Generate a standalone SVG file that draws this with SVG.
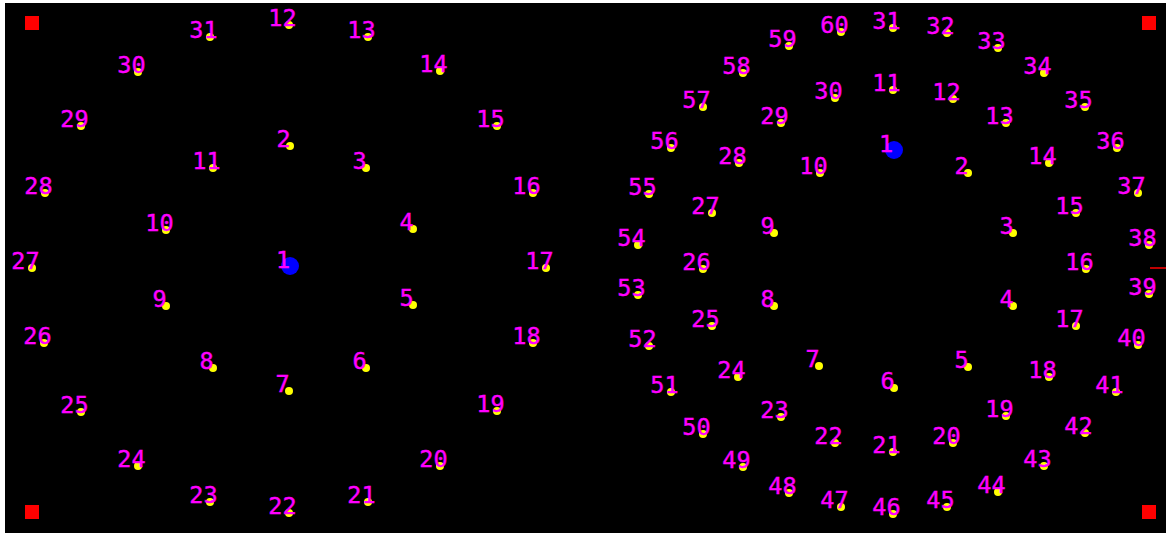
<svg xmlns="http://www.w3.org/2000/svg" width="1166" height="533" viewBox="0 0 1166 533">
<style>
.d{fill:#ffff00}
.b{fill:#0000ff}
.t{fill:#ff00ff;stroke:#ff00ff;stroke-width:0.4;font-family:"DejaVu Sans Mono","Liberation Mono",monospace;font-size:23.5px;text-anchor:middle}
.m{fill:#ff0000}
</style>
<rect x="0" y="0" width="1166" height="533" fill="#ffffff"/>
<rect x="5" y="3" width="1161" height="530" fill="#000000"/>
<rect class="m" x="25" y="16" width="14" height="14"/>
<rect class="m" x="1142" y="16" width="14" height="14"/>
<rect class="m" x="25" y="505" width="14" height="14"/>
<rect class="m" x="1142" y="505" width="14" height="14"/>
<line x1="1150" y1="268" x2="1166" y2="268" stroke="#ff0000" stroke-width="1.5"/>
<g id="connectors"></g>
<g id="left">
<g id="L1"><circle class="b" cx="290" cy="266" r="9"/><text class="t" x="283" y="268">1</text></g>
<g id="L2"><circle class="d" cx="290" cy="146" r="4"/><text class="t" x="283.5" y="147">2</text></g>
<g id="L3"><circle class="d" cx="366" cy="168" r="4"/><text class="t" x="359.5" y="169">3</text></g>
<g id="L4"><circle class="d" cx="413" cy="229" r="4"/><text class="t" x="406.5" y="230">4</text></g>
<g id="L5"><circle class="d" cx="413" cy="305" r="4"/><text class="t" x="406.5" y="306">5</text></g>
<g id="L6"><circle class="d" cx="366" cy="368" r="4"/><text class="t" x="359.5" y="369">6</text></g>
<g id="L7"><circle class="d" cx="289" cy="391" r="4"/><text class="t" x="282.5" y="392">7</text></g>
<g id="L8"><circle class="d" cx="213" cy="368" r="4"/><text class="t" x="206.5" y="369">8</text></g>
<g id="L9"><circle class="d" cx="166" cy="306" r="4"/><text class="t" x="159.5" y="307">9</text></g>
<g id="L10"><circle class="d" cx="166" cy="230" r="4"/><text class="t" x="159.5" y="231">10</text></g>
<g id="L11"><circle class="d" cx="213" cy="168" r="4"/><text class="t" x="206.5" y="169">11</text></g>
<g id="L12"><circle class="d" cx="289" cy="25" r="4"/><text class="t" x="282.5" y="26">12</text></g>
<g id="L13"><circle class="d" cx="368" cy="37" r="4"/><text class="t" x="361.5" y="38">13</text></g>
<g id="L14"><circle class="d" cx="440" cy="71" r="4"/><text class="t" x="433.5" y="72">14</text></g>
<g id="L15"><circle class="d" cx="497" cy="126" r="4"/><text class="t" x="490.5" y="127">15</text></g>
<g id="L16"><circle class="d" cx="533" cy="193" r="4"/><text class="t" x="526.5" y="194">16</text></g>
<g id="L17"><circle class="d" cx="546" cy="268" r="4"/><text class="t" x="539.5" y="269">17</text></g>
<g id="L18"><circle class="d" cx="533" cy="343" r="4"/><text class="t" x="526.5" y="344">18</text></g>
<g id="L19"><circle class="d" cx="497" cy="411" r="4"/><text class="t" x="490.5" y="412">19</text></g>
<g id="L20"><circle class="d" cx="440" cy="466" r="4"/><text class="t" x="433.5" y="467">20</text></g>
<g id="L21"><circle class="d" cx="368" cy="502" r="4"/><text class="t" x="361.5" y="503">21</text></g>
<g id="L22"><circle class="d" cx="289" cy="513" r="4"/><text class="t" x="282.5" y="514">22</text></g>
<g id="L23"><circle class="d" cx="210" cy="502" r="4"/><text class="t" x="203.5" y="503">23</text></g>
<g id="L24"><circle class="d" cx="138" cy="466" r="4"/><text class="t" x="131.5" y="467">24</text></g>
<g id="L25"><circle class="d" cx="81" cy="412" r="4"/><text class="t" x="74.5" y="413">25</text></g>
<g id="L26"><circle class="d" cx="44" cy="343" r="4"/><text class="t" x="37.5" y="344">26</text></g>
<g id="L27"><circle class="d" cx="32" cy="268" r="4"/><text class="t" x="25.5" y="269">27</text></g>
<g id="L28"><circle class="d" cx="45" cy="193" r="4"/><text class="t" x="38.5" y="194">28</text></g>
<g id="L29"><circle class="d" cx="81" cy="126" r="4"/><text class="t" x="74.5" y="127">29</text></g>
<g id="L30"><circle class="d" cx="138" cy="72" r="4"/><text class="t" x="131.5" y="73">30</text></g>
<g id="L31"><circle class="d" cx="210" cy="37" r="4"/><text class="t" x="203.5" y="38">31</text></g>
</g>
<g id="right">
<g id="R1"><circle class="b" cx="894" cy="150" r="9"/><text class="t" x="886" y="152">1</text></g>
<g id="R2"><circle class="d" cx="968" cy="173" r="4"/><text class="t" x="961.5" y="174">2</text></g>
<g id="R3"><circle class="d" cx="1013" cy="233" r="4"/><text class="t" x="1006.5" y="234">3</text></g>
<g id="R4"><circle class="d" cx="1013" cy="306" r="4"/><text class="t" x="1006.5" y="307">4</text></g>
<g id="R5"><circle class="d" cx="968" cy="367" r="4"/><text class="t" x="961.5" y="368">5</text></g>
<g id="R6"><circle class="d" cx="894" cy="388" r="4"/><text class="t" x="887.5" y="389">6</text></g>
<g id="R7"><circle class="d" cx="819" cy="366" r="4"/><text class="t" x="812.5" y="367">7</text></g>
<g id="R8"><circle class="d" cx="774" cy="306" r="4"/><text class="t" x="767.5" y="307">8</text></g>
<g id="R9"><circle class="d" cx="774" cy="233" r="4"/><text class="t" x="767.5" y="234">9</text></g>
<g id="R10"><circle class="d" cx="820" cy="173" r="4"/><text class="t" x="813.5" y="174">10</text></g>
<g id="R11"><circle class="d" cx="893" cy="90" r="4"/><text class="t" x="886.5" y="91">11</text></g>
<g id="R12"><circle class="d" cx="953" cy="99" r="4"/><text class="t" x="946.5" y="100">12</text></g>
<g id="R13"><circle class="d" cx="1006" cy="123" r="4"/><text class="t" x="999.5" y="124">13</text></g>
<g id="R14"><circle class="d" cx="1049" cy="163" r="4"/><text class="t" x="1042.5" y="164">14</text></g>
<g id="R15"><circle class="d" cx="1076" cy="213" r="4"/><text class="t" x="1069.5" y="214">15</text></g>
<g id="R16"><circle class="d" cx="1086" cy="269" r="4"/><text class="t" x="1079.5" y="270">16</text></g>
<g id="R17"><circle class="d" cx="1076" cy="326" r="4"/><text class="t" x="1069.5" y="327">17</text></g>
<g id="R18"><circle class="d" cx="1049" cy="377" r="4"/><text class="t" x="1042.5" y="378">18</text></g>
<g id="R19"><circle class="d" cx="1006" cy="416" r="4"/><text class="t" x="999.5" y="417">19</text></g>
<g id="R20"><circle class="d" cx="953" cy="443" r="4"/><text class="t" x="946.5" y="444">20</text></g>
<g id="R21"><circle class="d" cx="893" cy="452" r="4"/><text class="t" x="886.5" y="453">21</text></g>
<g id="R22"><circle class="d" cx="835" cy="443" r="4"/><text class="t" x="828.5" y="444">22</text></g>
<g id="R23"><circle class="d" cx="781" cy="417" r="4"/><text class="t" x="774.5" y="418">23</text></g>
<g id="R24"><circle class="d" cx="738" cy="377" r="4"/><text class="t" x="731.5" y="378">24</text></g>
<g id="R25"><circle class="d" cx="712" cy="326" r="4"/><text class="t" x="705.5" y="327">25</text></g>
<g id="R26"><circle class="d" cx="703" cy="269" r="4"/><text class="t" x="696.5" y="270">26</text></g>
<g id="R27"><circle class="d" cx="712" cy="213" r="4"/><text class="t" x="705.5" y="214">27</text></g>
<g id="R28"><circle class="d" cx="739" cy="163" r="4"/><text class="t" x="732.5" y="164">28</text></g>
<g id="R29"><circle class="d" cx="781" cy="123" r="4"/><text class="t" x="774.5" y="124">29</text></g>
<g id="R30"><circle class="d" cx="835" cy="98" r="4"/><text class="t" x="828.5" y="99">30</text></g>
<g id="R31"><circle class="d" cx="893" cy="28" r="4"/><text class="t" x="886.5" y="29">31</text></g>
<g id="R32"><circle class="d" cx="947" cy="33" r="4"/><text class="t" x="940.5" y="34">32</text></g>
<g id="R33"><circle class="d" cx="998" cy="48" r="4"/><text class="t" x="991.5" y="49">33</text></g>
<g id="R34"><circle class="d" cx="1044" cy="73" r="4"/><text class="t" x="1037.5" y="74">34</text></g>
<g id="R35"><circle class="d" cx="1085" cy="107" r="4"/><text class="t" x="1078.5" y="108">35</text></g>
<g id="R36"><circle class="d" cx="1117" cy="148" r="4"/><text class="t" x="1110.5" y="149">36</text></g>
<g id="R37"><circle class="d" cx="1138" cy="193" r="4"/><text class="t" x="1131.5" y="194">37</text></g>
<g id="R38"><circle class="d" cx="1149" cy="245" r="4"/><text class="t" x="1142.5" y="246">38</text></g>
<g id="R39"><circle class="d" cx="1149" cy="294" r="4"/><text class="t" x="1142.5" y="295">39</text></g>
<g id="R40"><circle class="d" cx="1138" cy="345" r="4"/><text class="t" x="1131.5" y="346">40</text></g>
<g id="R41"><circle class="d" cx="1116" cy="392" r="4"/><text class="t" x="1109.5" y="393">41</text></g>
<g id="R42"><circle class="d" cx="1085" cy="433" r="4"/><text class="t" x="1078.5" y="434">42</text></g>
<g id="R43"><circle class="d" cx="1044" cy="466" r="4"/><text class="t" x="1037.5" y="467">43</text></g>
<g id="R44"><circle class="d" cx="998" cy="492" r="4"/><text class="t" x="991.5" y="493">44</text></g>
<g id="R45"><circle class="d" cx="947" cy="507" r="4"/><text class="t" x="940.5" y="508">45</text></g>
<g id="R46"><circle class="d" cx="893" cy="514" r="4"/><text class="t" x="886.5" y="515">46</text></g>
<g id="R47"><circle class="d" cx="841" cy="507" r="4"/><text class="t" x="834.5" y="508">47</text></g>
<g id="R48"><circle class="d" cx="789" cy="493" r="4"/><text class="t" x="782.5" y="494">48</text></g>
<g id="R49"><circle class="d" cx="743" cy="467" r="4"/><text class="t" x="736.5" y="468">49</text></g>
<g id="R50"><circle class="d" cx="703" cy="434" r="4"/><text class="t" x="696.5" y="435">50</text></g>
<g id="R51"><circle class="d" cx="671" cy="392" r="4"/><text class="t" x="664.5" y="393">51</text></g>
<g id="R52"><circle class="d" cx="649" cy="346" r="4"/><text class="t" x="642.5" y="347">52</text></g>
<g id="R53"><circle class="d" cx="638" cy="295" r="4"/><text class="t" x="631.5" y="296">53</text></g>
<g id="R54"><circle class="d" cx="638" cy="245" r="4"/><text class="t" x="631.5" y="246">54</text></g>
<g id="R55"><circle class="d" cx="649" cy="194" r="4"/><text class="t" x="642.5" y="195">55</text></g>
<g id="R56"><circle class="d" cx="671" cy="148" r="4"/><text class="t" x="664.5" y="149">56</text></g>
<g id="R57"><circle class="d" cx="703" cy="107" r="4"/><text class="t" x="696.5" y="108">57</text></g>
<g id="R58"><circle class="d" cx="743" cy="73" r="4"/><text class="t" x="736.5" y="74">58</text></g>
<g id="R59"><circle class="d" cx="789" cy="46" r="4"/><text class="t" x="782.5" y="47">59</text></g>
<g id="R60"><circle class="d" cx="841" cy="32" r="4"/><text class="t" x="834.5" y="33">60</text></g>
</g>
</svg>
